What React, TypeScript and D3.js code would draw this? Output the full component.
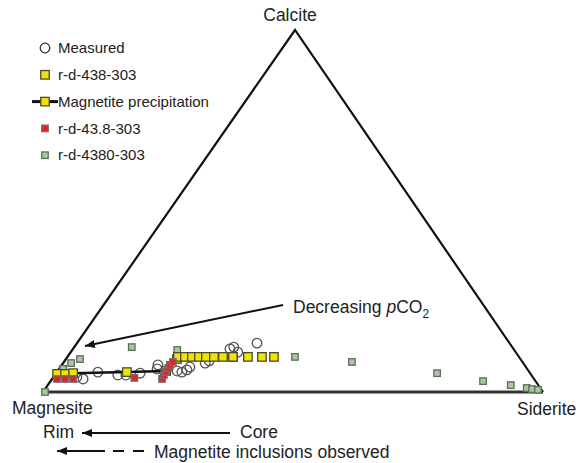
import * as d3 from 'd3';

// ternary values in percent: siderite, calcite (magnesite = rest)
const measuredSid = [4.7, 6.2, 8.2, 12.6, 14.2, 16.8, 19.2, 19.6, 23.9, 25.0, 25.7, 25.9, 28.4, 28.9, 31.4, 31.9, 33.4, 36.0];
const measuredCal = [4.1, 3.6, 5.5, 4.7, 4.7, 5.2, 7.5, 6.4, 5.8, 5.5, 6.1, 6.9, 8.0, 8.6, 11.9, 12.4, 11.0, 13.5];

const run438Sid = [22.1, 23.5, 24.9, 26.3, 27.7, 29.3, 31.1, 33.1, 36.1, 38.9, 41.3];
const run438Cal = [9.7, 9.7, 9.7, 9.7, 9.7, 9.7, 9.7, 9.7, 9.7, 9.7, 9.7];

const magnetiteSid = [0.3, 1.9, 3.4, 14.0, 21.7, 22.2, 33.1];
const magnetiteCal = [5.0, 5.0, 5.2, 5.5, 5.8, 9.1, 9.7];

const run43Sid = [1.0, 2.6, 4.2, 16.3, 22.0, 21.8, 21.8, 21.7, 21.6, 21.8];
const run43Cal = [3.6, 3.6, 3.6, 3.9, 3.6, 4.7, 5.5, 6.6, 7.5, 8.3];

const run4380Sid = [0.4, 0.8, 1.6, 2.8, 11.5, 21.0, 45.5, 57.6, 76.2, 86.5, 92.6, 96.2, 97.4, 98.7];
const run4380Cal = [0, 6.4, 8.0, 9.1, 12.4, 11.6, 9.7, 8.3, 5.2, 3.0, 1.9, 1.1, 0.8, 0.6];

const legendLabels = ['Measured', 'r-d-438-303', 'Magnetite precipitation', 'r-d-43.8-303', 'r-d-4380-303'];

const W = 579;
const H = 463;
const APEX_U = 0.504; // horizontal position of the calcite apex along the base
const FONT = "'Liberation Sans', Arial, Helvetica, sans-serif";

const xScale = d3.scaleLinear().domain([0, 1]).range([43, 543]);
const yScale = d3.scaleLinear().domain([0, 1]).range([392, 30]);

const project = (sid: number, cal: number): [number, number] => {
  const s = sid / 100;
  const c = cal / 100;
  return [xScale(s + c * APEX_U), yScale(c)];
};

const pts = (sid: number[], cal: number[]) => sid.map((v, i) => project(v, cal[i]));

const YELLOW = '#f0e400';
const RED = '#e0232b';
const GREEN = '#a8c8a2';

function Square({ x, y, size, fill, stroke }: { x: number; y: number; size: number; fill: string; stroke: string }) {
  return <rect x={x - size / 2} y={y - size / 2} width={size} height={size} fill={fill} stroke={stroke} strokeWidth={1.3} />;
}

export default function App() {
  const apex = project(0, 100);
  const magn = project(0, 0);
  const sidr = project(100, 0);
  const line = d3.line();
  const magnetitePts = pts(magnetiteSid, magnetiteCal);

  const legendY = legendLabels.map((_, i) => 48 + i * 26.8);

  return (
    <svg width={W} height={H} style={{ position: 'absolute', left: 0, top: 0, background: '#fff' }} fontFamily={FONT}>
      <defs>
        <marker id="ah" viewBox="0 0 10 8" refX="10" refY="4" markerWidth="10" markerHeight="8" markerUnits="userSpaceOnUse" orient="auto">
          <path d="M0,0 L10,4 L0,8 Z" fill="#111" />
        </marker>
      </defs>

      {/* triangle */}
      <path d={line([magn, apex, sidr]) || ''} fill="none" stroke="#111" strokeWidth={2.2} />
      <line x1={magn[0]} y1={magn[1]} x2={sidr[0]} y2={sidr[1]} stroke="#333" strokeWidth={3} />

      {/* measured */}
      {pts(measuredSid, measuredCal).map(([x, y], i) => (
        <circle key={'m' + i} cx={x} cy={y} r={4.8} fill="none" stroke="#555" strokeWidth={1.3} />
      ))}

      {/* r-d-4380-303 */}
      {pts(run4380Sid, run4380Cal).map(([x, y], i) => (
        <Square key={'g' + i} x={x} y={y} size={6.5} fill={GREEN} stroke="#5f6b5c" />
      ))}

      {/* magnetite precipitation */}
      <path d={line(magnetitePts) || ''} fill="none" stroke="#111" strokeWidth={2.5} />
      {magnetitePts.map(([x, y], i) => (
        <Square key={'mp' + i} x={x} y={y} size={8.5} fill={YELLOW} stroke="#4a4a30" />
      ))}

      {/* r-d-438-303 */}
      {pts(run438Sid, run438Cal).map(([x, y], i) => (
        <Square key={'y' + i} x={x} y={y} size={8.5} fill={YELLOW} stroke="#4a4a30" />
      ))}

      {/* r-d-43.8-303 */}
      {pts(run43Sid, run43Cal).map(([x, y], i) => (
        <Square key={'r' + i} x={x} y={y} size={6.5} fill={RED} stroke="#7a6a6a" />
      ))}

      {/* vertex labels */}
      <text x={290} y={21} textAnchor="middle" fontSize={17.5} fill="#222">Calcite</text>
      <text x={12} y={414} fontSize={17.5} fill="#222">Magnesite</text>
      <text x={517} y={415} fontSize={17.5} fill="#222">Siderite</text>

      {/* pCO2 annotation */}
      <line x1={283} y1={305} x2={85} y2={346} stroke="#111" strokeWidth={2} markerEnd="url(#ah)" />
      <text x={293} y={313} fontSize={17.5} fill="#222">
        Decreasing <tspan fontStyle="italic">p</tspan>CO<tspan fontSize={12} dy={5}>2</tspan>
      </text>

      {/* rim / core */}
      <text x={43} y={438} fontSize={17.5} fill="#222">Rim</text>
      <line x1={230} y1={433} x2={82} y2={433} stroke="#111" strokeWidth={1.8} markerEnd="url(#ah)" />
      <text x={240} y={438} fontSize={17.5} fill="#222">Core</text>
      <line x1={105} y1={451} x2={57} y2={451} stroke="#111" strokeWidth={1.8} markerEnd="url(#ah)" />
      <line x1={113} y1={451} x2={144} y2={451} stroke="#111" strokeWidth={1.8} strokeDasharray="11 9" />
      <text x={154} y={458} fontSize={17.5} fill="#222">Magnetite inclusions observed</text>

      {/* legend */}
      <g fontSize={15} fill="#222">
        <circle cx={45} cy={legendY[0]} r={4.8} fill="#fff" stroke="#333" strokeWidth={1.3} />
        <Square x={45} y={legendY[1]} size={8.5} fill={YELLOW} stroke="#4a4a30" />
        <line x1={32} y1={legendY[2]} x2={58} y2={legendY[2]} stroke="#111" strokeWidth={3} />
        <Square x={45} y={legendY[2]} size={8.5} fill={YELLOW} stroke="#4a4a30" />
        <Square x={45} y={legendY[3]} size={6.5} fill={RED} stroke="#7a6a6a" />
        <Square x={45} y={legendY[4]} size={6.5} fill={GREEN} stroke="#5f6b5c" />
        {legendLabels.map((t, i) => (
          <text key={t} x={58} y={legendY[i]} dy="0.35em">{t}</text>
        ))}
      </g>
    </svg>
  );
}
